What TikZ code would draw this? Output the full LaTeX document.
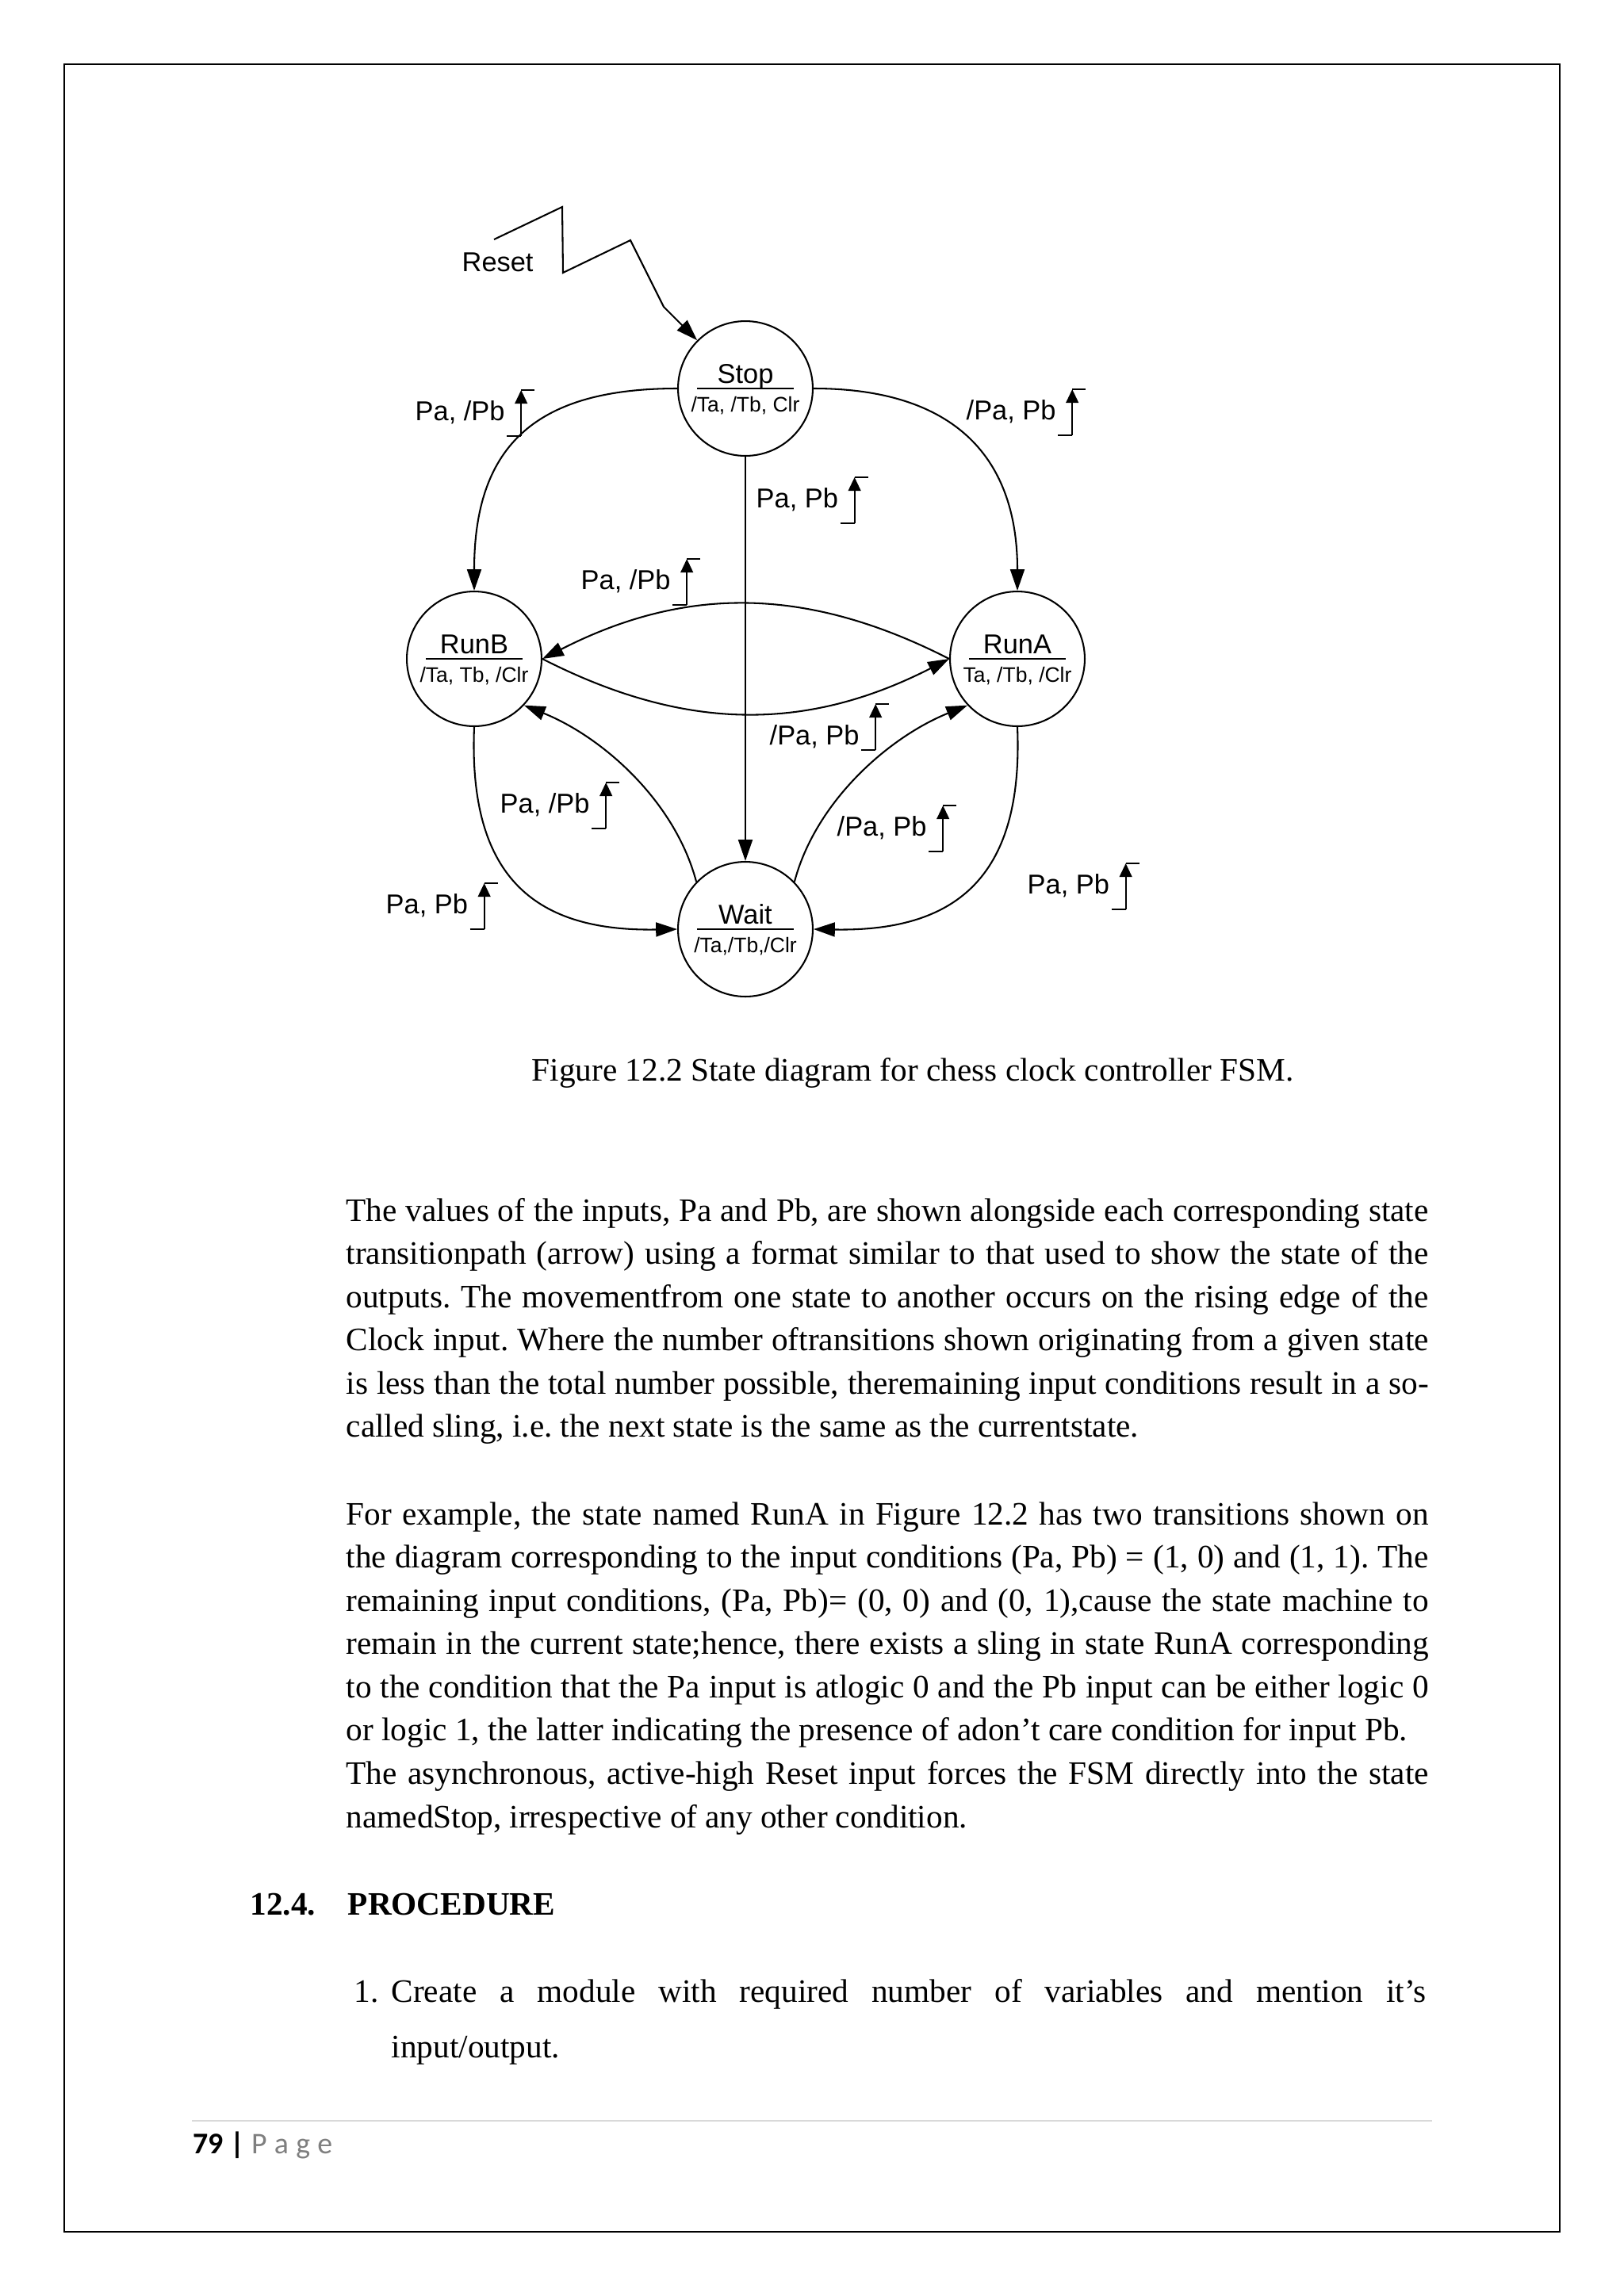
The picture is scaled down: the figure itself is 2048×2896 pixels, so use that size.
\documentclass[tikz,border=0pt]{standalone}
\usepackage{fontspec}
\setmainfont{Liberation Serif}
\newfontfamily\diagfont{Liberation Sans}
\newfontfamily\footfont{Carlito}
\usepackage{xcolor}
\usepackage{tikz}
\usetikzlibrary{positioning,arrows.meta,calc}
\frenchspacing
\definecolor{pagegrey}{HTML}{7F7F7F}
\definecolor{rulegrey}{HTML}{D9D9D9}
\tikzset{
  state/.style={circle, draw, line width=0.6pt, minimum size=49.4pt, inner sep=0pt},
  sttl/.style={font=\diagfont\fontsize{10}{10}\selectfont, inner sep=0pt, anchor=base},
  ssub/.style={font=\diagfont\fontsize{7.7}{8}\selectfont, inner sep=0pt, anchor=base},
  cond/.style={font=\diagfont\fontsize{10}{10}\selectfont, inner sep=0pt, anchor=base west},
  trans/.style={-{Triangle[length=7.8pt,width=5.2pt]}, line width=0.6pt},
  body/.style={font=\fontsize{12}{15.87}\selectfont, inner sep=0pt, anchor=base west,
               text width=396.8pt, align=left},
  rise/.pic={
    \draw[line width=0.6pt] (0,0) -- (18,0);
    \draw[line width=0.6pt, -{Triangle[length=5pt,width=4.6pt]}] (18,0) -- (18,-58);
    \draw[line width=0.6pt] (18,-58) -- (35,-58);
  },
}
% name, state, outputs
\newcommand{\statetext}[3]{%
  \node[sttl] (#1-t) at ($(#1.center)+(0,-7)$) {#2};
  \draw[line width=0.6pt] ($(#1.center)+(-61,0)$) -- ($(#1.center)+(61,0)$);
  \node[ssub] (#1-o) at ($(#1.center)+(0,29)$) {#3};
}
% one justified line of text
\newcommand{\jline}[2][396.8pt]{\makebox[#1][s]{\spaceskip=3pt plus 1fil minus 1.5pt\relax #2}}

\begin{document}
\begin{tikzpicture}[x=0.2907pt, y=-0.2907pt]
    \useasboundingbox (0,0) rectangle (2048,2896);
    \fill[white] (0,0) rectangle (2048,2896);
    \draw[line width=0.8pt] (81,81) rectangle (1967,2815);

    %% --- states ---
    \node[state] (stop) at (940,490) {};
    \node[state] (runb) at (598,831) {};
    \node[state] (runa) at (1283,831) {};
    \node[state] (wait) at (940,1172) {};
    \statetext{stop}{Stop}{/Ta, /Tb, Clr}
    \statetext{runb}{RunB}{/Ta, Tb, /Clr}
    \statetext{runa}{RunA}{Ta, /Tb, /Clr}
    \statetext{wait}{Wait}{/Ta,/Tb,/Clr}

    %% --- reset ---
    \node[cond] (reset) at (582,342) {Reset};
    \coordinate (rst) at (623,302);
    \draw[trans] (rst) -- (709,261) -- (710,344) -- (795,303) -- (837,387) -- (stop.135);

    %% --- transitions ---
    \draw[trans] (stop.west) .. controls +(-175,0) and +(0,-186) .. (runb.north);
    \draw[trans] (stop.east) .. controls +(170,0) and +(0,-175) .. (runa.north);
    \draw[trans] (stop.south) -- (wait.north);
    \draw[trans] (runa.west) .. controls +(-180,-92) and +(180,-92) .. (runb.east);
    \draw[trans] (runb.east) .. controls +(180,92) and +(-180,92) .. (runa.west);
    \draw[trans] (runb.south) .. controls +(-8,194) and +(-175,3) .. (wait.west);
    \draw[trans] (runa.south) .. controls +(8,194) and +(175,3) .. (wait.east);
    \draw[trans] (wait.136) .. controls +(-27,-102) and +(99,40) .. (runb.-43);
    \draw[trans] (wait.44) .. controls +(27,-102) and +(-99,40) .. (runa.223);

    %% --- input conditions ---
    \node[cond] (c_sb) at (523,530) {Pa, /Pb};
    \pic at ($(c_sb.base east)+(2,20)$) {rise};
    \node[cond] (c_sa) at (1218,529) {/Pa, Pb};
    \pic at ($(c_sa.base east)+(2,20)$) {rise};
    \node[cond] (c_sw) at (953,640) {Pa, Pb};
    \pic at ($(c_sw.base east)+(2,20)$) {rise};
    \node[cond] (c_ab) at (732,743) {Pa, /Pb};
    \pic at ($(c_ab.base east)+(2,20)$) {rise};
    \node[cond] (c_ba) at (970,939) {/Pa, Pb};
    \pic at ($(c_ba.base east)+(2,7)$) {rise};
    \node[cond] (c_wb) at (630,1025) {Pa, /Pb};
    \pic at ($(c_wb.base east)+(2,20)$) {rise};
    \node[cond] (c_bw) at (486,1152) {Pa, Pb};
    \pic at ($(c_bw.base east)+(2,20)$) {rise};
    \node[cond] (c_wa) at (1055,1054) {/Pa, Pb};
    \pic at ($(c_wa.base east)+(2,20)$) {rise};
    \node[cond] (c_aw) at (1295,1127) {Pa, Pb};
    \pic at ($(c_aw.base east)+(2,20)$) {rise};

    %% --- caption and text ---
    \node[font=\fontsize{12}{14}\selectfont, inner sep=0pt, anchor=base west] (caption) at (670,1363)
      {Figure 12.2 State diagram for chess clock controller FSM.};
    \node[body] (para1) at (436,1540) {%
      \jline{The values of the inputs, Pa and Pb, are shown alongside each corresponding state}\\
      \jline{transitionpath (arrow) using a format similar to that used to show the state of the}\\
      \jline{outputs. The movementfrom one state to another occurs on the rising edge of the}\\
      \jline{Clock input. Where the number oftransitions shown originating from a given state}\\
      \jline{is less than the total number possible, theremaining input conditions result in a so-}\\
      \jline[290.5pt]{called sling, i.e. the next state is the same as the currentstate.}};
    \node[body] (para2) at (436,1923) {%
      \jline{For example, the state named RunA in Figure 12.2 has two transitions shown on}\\
      \jline{the diagram corresponding to the input conditions (Pa, Pb) = (1, 0) and (1, 1). The}\\
      \jline{remaining input conditions, (Pa, Pb)= (0, 0) and (0, 1),cause the state machine to}\\
      \jline{remain in the current state;hence, there exists a sling in state RunA corresponding}\\
      \jline{to the condition that the Pa input is atlogic 0 and the Pb input can be either logic 0}\\
      \jline[389pt]{or logic 1, the latter indicating the presence of adon’t care condition for input Pb.}\\
      \jline{The asynchronous, active-high Reset input forces the FSM directly into the state}\\
      \jline[227.7pt]{namedStop, irrespective of any other condition.}};
    \node[font=\bfseries\fontsize{12}{14}\selectfont, inner sep=0pt, anchor=base west] (sec) at (315,2415)
      {\makebox[35.8pt][l]{12.4.}PROCEDURE};
    \node[font=\fontsize{12}{14}\selectfont, inner sep=0pt, anchor=base west] (item1n) at (446,2525) {1.};
    \node[body, text width=379.4pt, font=\fontsize{12}{20.35}\selectfont] (item1) at (493,2525)
      {\jline[379.4pt]{Create a module with required number of variables and mention it’s}\\
       input/output.};

    %% --- footer ---
    \draw[rulegrey, line width=0.6pt] (242,2675) -- (1806,2675);
    \node[font=\footfont\fontsize{11}{13}\selectfont, inner sep=0pt, anchor=base west] (pageno) at (243,2716)
      {\textbf{79 |} {\color{pagegrey}P\kern2.7pt a\kern2.7pt g\kern2.7pt e}};
\end{tikzpicture}
\end{document}
